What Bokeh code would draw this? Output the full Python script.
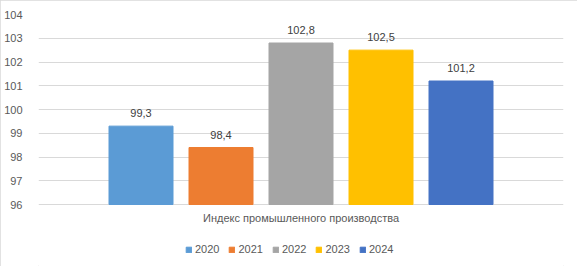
from bokeh.plotting import figure
from bokeh.models import ColumnDataSource, FixedTicker, FactorRange, Label, Range1d
from bokeh.embed import file_html
from bokeh.resources import INLINE
from bokeh.core.properties import value

category = "Индекс промышленного производства"
years = ["2020", "2021", "2022", "2023", "2024"]
values = [99.3, 98.4, 102.8, 102.5, 101.2]
colors = ["#5b9bd5", "#ed7d31", "#a5a5a5", "#ffc000", "#4472c4"]
y_ticks = [96, 97, 98, 99, 100, 101, 102, 103, 104]

labels = [f"{v:.1f}".replace(".", ",") for v in values]
src = ColumnDataSource(dict(year=years, val=values, color=colors, label=labels))

FONT = "Liberation Sans"
TXT = "#595959"
BASE = y_ticks[0]

# frame extends below the value axis to host the category label and legend
p = figure(width=577, height=266, x_range=FactorRange(*years, range_padding=0.3125, range_padding_units="percent"),
           y_range=Range1d(93.39, 104), output_backend="svg", toolbar_location=None,
           min_border_left=38, min_border_right=14, min_border_top=14, min_border_bottom=0,
           styles={"outline": "1px solid #d9d9d9", "outline-offset": "-1px"})
p.outline_line_color = None
p.background_fill_color = "white"
p.border_fill_color = "white"

r = p.vbar(x="year", top="val", bottom=BASE, width=0.8, color="color", source=src, legend_field="year")
p.text(x="year", y="val", text="label", source=src, y_offset=-9, text_align="center",
       text_baseline="bottom", text_font=value(FONT), text_font_size="11px", text_color="#404040")

p.yaxis.ticker = FixedTicker(ticks=y_ticks)
p.yaxis.axis_line_color = None
p.yaxis.major_tick_line_color = None
p.yaxis.minor_tick_line_color = None
p.yaxis.major_label_standoff = 10
p.yaxis.major_label_text_font = FONT
p.yaxis.major_label_text_font_size = "11px"
p.yaxis.major_label_text_color = TXT

p.xaxis.visible = False
p.xgrid.grid_line_color = None
p.ygrid.grid_line_color = "#d9d9d9"

p.add_layout(Label(x=2.5, y=95.45, text=category, text_align="center", text_baseline="middle",
                   text_font=FONT, text_font_size="11px", text_color=TXT))

legend = p.legend[0]
legend.orientation = "horizontal"
legend.location = (147, 11)
legend.glyph_width = 7
legend.glyph_height = 7
legend.label_standoff = 3
legend.spacing = 9
legend.padding = 2
legend.margin = 0
legend.border_line_color = None
legend.background_fill_alpha = 0
legend.label_text_font = FONT
legend.label_text_font_size = "11px"
legend.label_text_color = TXT

open("out.html", "w").write(file_html(p, INLINE))
